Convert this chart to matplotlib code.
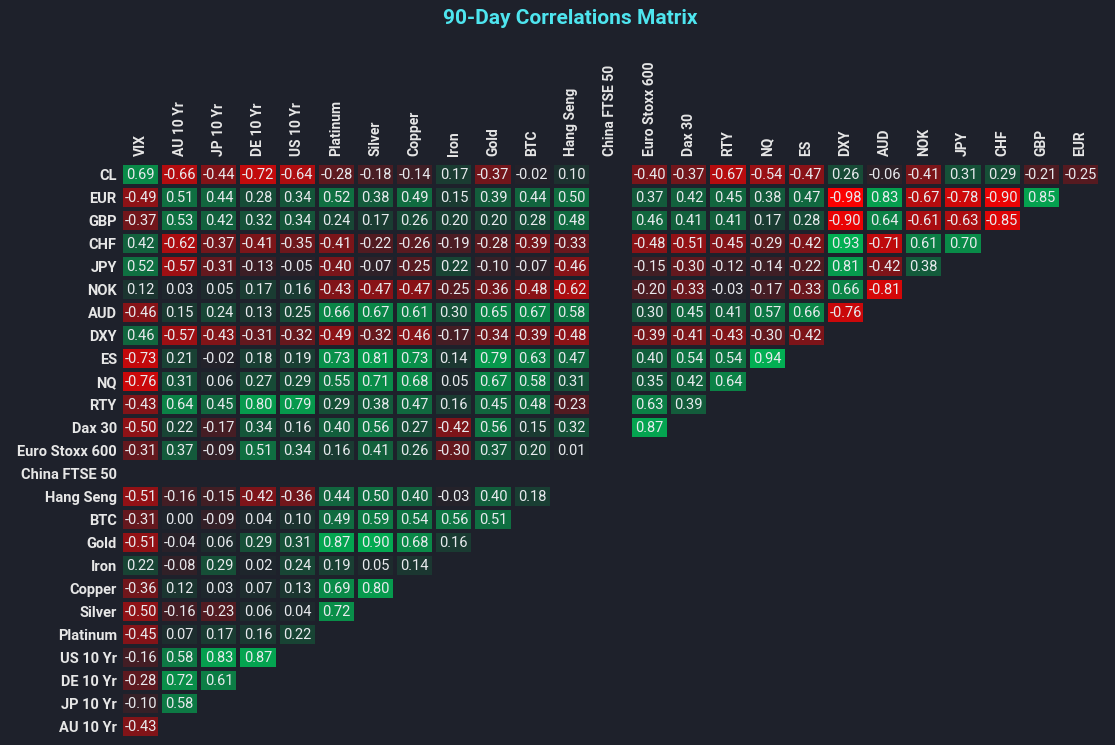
import numpy as np
import matplotlib
matplotlib.use("Agg")
import matplotlib.pyplot as plt
from matplotlib.colors import LinearSegmentedColormap

rows = ["CL", "EUR", "GBP", "CHF", "JPY", "NOK", "AUD", "DXY", "ES", "NQ", "RTY",
        "Dax 30", "Euro Stoxx 600", "China FTSE 50", "Hang Seng", "BTC", "Gold",
        "Iron", "Copper", "Silver", "Platinum", "US 10 Yr", "DE 10 Yr", "JP 10 Yr", "AU 10 Yr"]
cols = ["VIX", "AU 10 Yr", "JP 10 Yr", "DE 10 Yr", "US 10 Yr", "Platinum", "Silver",
        "Copper", "Iron", "Gold", "BTC", "Hang Seng", "China FTSE 50", "Euro Stoxx 600",
        "Dax 30", "RTY", "NQ", "ES", "DXY", "AUD", "NOK", "JPY", "CHF", "GBP", "EUR"]
n = np.nan
r_CL = [0.69, -0.66, -0.44, -0.72, -0.64, -0.28, -0.18, -0.14, 0.17, -0.37, -0.02, 0.10, n, -0.40, -0.37, -0.67, -0.54, -0.47, 0.26, -0.06, -0.41, 0.31, 0.29, -0.21, -0.25]
r_EUR = [-0.49, 0.51, 0.44, 0.28, 0.34, 0.52, 0.38, 0.49, 0.15, 0.39, 0.44, 0.50, n, 0.37, 0.42, 0.45, 0.38, 0.47, -0.98, 0.83, -0.67, -0.78, -0.90, 0.85]
r_GBP = [-0.37, 0.53, 0.42, 0.32, 0.34, 0.24, 0.17, 0.26, 0.20, 0.20, 0.28, 0.48, n, 0.46, 0.41, 0.41, 0.17, 0.28, -0.90, 0.64, -0.61, -0.63, -0.85]
r_CHF = [0.42, -0.62, -0.37, -0.41, -0.35, -0.41, -0.22, -0.26, -0.19, -0.28, -0.39, -0.33, n, -0.48, -0.51, -0.45, -0.29, -0.42, 0.93, -0.71, 0.61, 0.70]
r_JPY = [0.52, -0.57, -0.31, -0.13, -0.05, -0.40, -0.07, -0.25, 0.22, -0.10, -0.07, -0.46, n, -0.15, -0.30, -0.12, -0.14, -0.22, 0.81, -0.42, 0.38]
r_NOK = [0.12, 0.03, 0.05, 0.17, 0.16, -0.43, -0.47, -0.47, -0.25, -0.36, -0.48, -0.62, n, -0.20, -0.33, -0.03, -0.17, -0.33, 0.66, -0.81]
r_AUD = [-0.46, 0.15, 0.24, 0.13, 0.25, 0.66, 0.67, 0.61, 0.30, 0.65, 0.67, 0.58, n, 0.30, 0.45, 0.41, 0.57, 0.66, -0.76]
r_DXY = [0.46, -0.57, -0.43, -0.31, -0.32, -0.49, -0.32, -0.46, -0.17, -0.34, -0.39, -0.48, n, -0.39, -0.41, -0.43, -0.30, -0.42]
r_ES = [-0.73, 0.21, -0.02, 0.18, 0.19, 0.73, 0.81, 0.73, 0.14, 0.79, 0.63, 0.47, n, 0.40, 0.54, 0.54, 0.94]
r_NQ = [-0.76, 0.31, 0.06, 0.27, 0.29, 0.55, 0.71, 0.68, 0.05, 0.67, 0.58, 0.31, n, 0.35, 0.42, 0.64]
r_RTY = [-0.43, 0.64, 0.45, 0.80, 0.79, 0.29, 0.38, 0.47, 0.16, 0.45, 0.48, -0.23, n, 0.63, 0.39]
r_DAX = [-0.50, 0.22, -0.17, 0.34, 0.16, 0.40, 0.56, 0.27, -0.42, 0.56, 0.15, 0.32, n, 0.87]
r_STOXX = [-0.31, 0.37, -0.09, 0.51, 0.34, 0.16, 0.41, 0.26, -0.30, 0.37, 0.20, 0.01, n]
r_CHINA = [n] * 12
r_HSI = [-0.51, -0.16, -0.15, -0.42, -0.36, 0.44, 0.50, 0.40, -0.03, 0.40, 0.18]
r_BTC = [-0.31, 0.00, -0.09, 0.04, 0.10, 0.49, 0.59, 0.54, 0.56, 0.51]
r_GOLD = [-0.51, -0.04, 0.06, 0.29, 0.31, 0.87, 0.90, 0.68, 0.16]
r_IRON = [0.22, -0.08, 0.29, 0.02, 0.24, 0.19, 0.05, 0.14]
r_COPPER = [-0.36, 0.12, 0.03, 0.07, 0.13, 0.69, 0.80]
r_SILVER = [-0.50, -0.16, -0.23, 0.06, 0.04, 0.72]
r_PLAT = [-0.45, 0.07, 0.17, 0.16, 0.22]
r_US10 = [-0.16, 0.58, 0.83, 0.87]
r_DE10 = [-0.28, 0.72, 0.61]
r_JP10 = [-0.10, 0.58]
r_AU10 = [-0.43]

row_values = [r_CL, r_EUR, r_GBP, r_CHF, r_JPY, r_NOK, r_AUD, r_DXY, r_ES, r_NQ, r_RTY,
              r_DAX, r_STOXX, r_CHINA, r_HSI, r_BTC, r_GOLD, r_IRON, r_COPPER, r_SILVER,
              r_PLAT, r_US10, r_DE10, r_JP10, r_AU10]

nr, nc = len(rows), len(cols)
M = np.full((nr, nc), np.nan)
for i, rv in enumerate(row_values):
    M[i, :len(rv)] = rv

BG = "#1e212b"
cmap = LinearSegmentedColormap.from_list(
    "rg", [(0.0, "#ff0000"), (0.5, "#1f232b"), (1.0, "#00b755")])
cmap.set_bad(BG)

W, H = 1115, 745
fig = plt.figure(figsize=(W / 100, H / 100), dpi=100, facecolor=BG)
x0, x1, y0, y1 = 121, 1100, 163, 738
ax = fig.add_axes([x0 / W, 1 - y1 / H, (x1 - x0) / W, (y1 - y0) / H])
ax.set_facecolor(BG)

Mm = np.ma.masked_invalid(M)
ax.pcolormesh(np.arange(nc + 1), np.arange(nr + 1), Mm, cmap=cmap, vmin=-1, vmax=1,
              edgecolors=BG, linewidth=1.5)
ax.set_xlim(0, nc)
ax.set_ylim(nr, 0)

cell_font = ["Roboto", "DejaVu Sans"]
for i in range(nr):
    for j in range(nc):
        v = M[i, j]
        if np.isnan(v):
            continue
        ax.text(j + 0.5, i + 0.52, f"{v:.2f}", ha="center", va="center",
                color="#e8eaee", fontsize=10.5, family=cell_font)

label_font = ["Roboto", "DejaVu Sans"]
ax.xaxis.tick_top()
ax.set_xticks(np.arange(nc) + 0.5)
ax.set_xticklabels(cols, rotation=90, fontsize=10, fontweight="bold",
                   color="#e6e6e6", family=label_font, va="bottom")
ax.set_yticks(np.arange(nr) + 0.5)
ax.set_yticklabels(rows, fontsize=10.5, fontweight="bold", color="#e6e6e6",
                   family=label_font)
ax.tick_params(axis="y", length=0, pad=3)
ax.tick_params(axis="x", length=0, pad=5)
for s in ax.spines.values():
    s.set_visible(False)

fig.text(570 / W, 1 - 18 / H, "90-Day Correlations Matrix", ha="center", va="center",
         color="#4ee5ef", fontsize=15, fontweight="bold", family=label_font)

fig.savefig("out.png", dpi=100, facecolor=BG)
